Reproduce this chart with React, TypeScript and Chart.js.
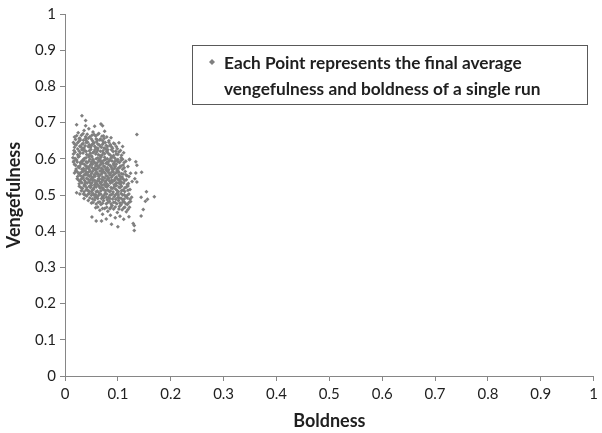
import React, { useEffect, useRef } from "react";
import { Chart, registerables } from "chart.js";

Chart.register(...registerables);

// Final average boldness (x) of each simulation run
const boldness: number[] = [
  // stragglers around the cluster
  0.032, 0.022, 0.039, 0.039, 0.056, 0.068, 0.071, 0.136, 0.102, 0.109, 0.122, 0.134, 0.136,
  0.134, 0.145, 0.132, 0.136, 0.154, 0.169, 0.144, 0.156, 0.152, 0.148, 0.144, 0.129, 0.131,
  0.131, 0.100, 0.088, 0.069, 0.059, 0.051, 0.121, 0.016, 0.022, 0.028, 0.036,
  // 0.65 - 0.68
  0.025, 0.031, 0.036, 0.042, 0.047, 0.053, 0.058, 0.064, 0.070, 0.075, 0.028, 0.040, 0.050,
  0.061, 0.079, 0.087, 0.018, 0.045,
  0.022, 0.034, 0.039, 0.051, 0.062, 0.073,
  0.020, 0.027, 0.035, 0.044, 0.052, 0.059, 0.066, 0.074, 0.083,
  // 0.61 - 0.65
  0.016, 0.021, 0.026, 0.030, 0.034, 0.038, 0.043, 0.048, 0.052, 0.056, 0.060, 0.065, 0.069,
  0.073, 0.078, 0.083, 0.088, 0.094, 0.099, 0.024, 0.035, 0.046, 0.057, 0.067, 0.081, 0.091,
  0.105, 0.019, 0.029, 0.041, 0.053, 0.063, 0.075, 0.086, 0.097, 0.111,
  0.018, 0.024, 0.032, 0.040, 0.046, 0.054, 0.062, 0.071, 0.076, 0.086, 0.092,
  0.018, 0.028, 0.036, 0.045, 0.050, 0.058, 0.067, 0.074, 0.080, 0.090, 0.097,
  0.017, 0.027, 0.032, 0.038, 0.049, 0.055, 0.062, 0.072, 0.079, 0.088, 0.096, 0.102,
  0.016, 0.024, 0.034, 0.045, 0.048, 0.058, 0.066, 0.072, 0.083, 0.092, 0.100, 0.107,
  // 0.57 - 0.61
  0.015, 0.022, 0.027, 0.032, 0.037, 0.042, 0.047, 0.051, 0.055, 0.059, 0.064, 0.068, 0.072,
  0.077, 0.082, 0.087, 0.092, 0.097, 0.103, 0.109, 0.115, 0.122,
  0.018, 0.025, 0.030, 0.035, 0.039, 0.044, 0.049, 0.054, 0.058, 0.062, 0.066, 0.071, 0.075,
  0.080, 0.085, 0.090, 0.095, 0.100, 0.106, 0.112, 0.119,
  0.019, 0.025, 0.035, 0.040, 0.045, 0.053, 0.062, 0.066, 0.075, 0.080, 0.085, 0.094, 0.100,
  0.106,
  0.017, 0.029, 0.035, 0.040, 0.050, 0.053, 0.061, 0.070, 0.074, 0.079, 0.089, 0.100, 0.106,
  0.112,
  0.020, 0.028, 0.037, 0.041, 0.047, 0.052, 0.060, 0.064, 0.069, 0.073, 0.082, 0.087, 0.092,
  0.097, 0.104, 0.110,
  0.021, 0.027, 0.032, 0.041, 0.046, 0.051, 0.056, 0.060, 0.064, 0.069, 0.077, 0.083, 0.088,
  0.093, 0.098, 0.103, 0.109,
  // 0.53 - 0.57
  0.020, 0.026, 0.031, 0.036, 0.041, 0.046, 0.050, 0.055, 0.060, 0.064, 0.069, 0.073, 0.078,
  0.083, 0.088, 0.093, 0.098, 0.104, 0.110, 0.117, 0.124,
  0.023, 0.029, 0.034, 0.039, 0.044, 0.049, 0.053, 0.058, 0.063, 0.067, 0.072, 0.076, 0.081,
  0.086, 0.091, 0.096, 0.101, 0.107, 0.113, 0.120, 0.127,
  0.018, 0.023, 0.028, 0.034, 0.039, 0.044, 0.052, 0.058, 0.062, 0.066, 0.071, 0.076, 0.081,
  0.086, 0.091, 0.096, 0.102, 0.107, 0.114,
  0.024, 0.029, 0.034, 0.039, 0.048, 0.051, 0.057, 0.066, 0.071, 0.080, 0.090, 0.097, 0.102,
  0.108, 0.115, 0.121,
  0.026, 0.031, 0.037, 0.041, 0.048, 0.051, 0.056, 0.061, 0.065, 0.070, 0.078, 0.083, 0.088,
  0.094, 0.099, 0.104, 0.110, 0.116,
  0.027, 0.032, 0.037, 0.042, 0.051, 0.061, 0.069, 0.079, 0.089, 0.098, 0.105, 0.111, 0.118,
  // 0.49 - 0.53
  0.027, 0.033, 0.038, 0.043, 0.048, 0.052, 0.057, 0.061, 0.066, 0.070, 0.074, 0.079, 0.084,
  0.089, 0.094, 0.099, 0.104, 0.110, 0.116, 0.123,
  0.035, 0.041, 0.046, 0.055, 0.060, 0.065, 0.071, 0.076, 0.082, 0.087, 0.093, 0.098, 0.103,
  0.109, 0.115, 0.121, 0.126,
  0.030, 0.036, 0.041, 0.046, 0.050, 0.055, 0.059, 0.064, 0.068, 0.072, 0.077, 0.082, 0.087,
  0.092, 0.097, 0.102, 0.107, 0.113, 0.119,
  0.031, 0.036, 0.040, 0.045, 0.054, 0.059, 0.068, 0.072, 0.081, 0.086, 0.096, 0.101, 0.107,
  0.113, 0.119,
  0.038, 0.044, 0.050, 0.053, 0.058, 0.063, 0.068, 0.074, 0.079, 0.085, 0.090, 0.095, 0.106,
  0.112, 0.118,
  0.047, 0.052, 0.057, 0.062, 0.073, 0.078, 0.085, 0.090, 0.100, 0.106, 0.112, 0.118, 0.123,
  // 0.43 - 0.49
  0.044, 0.050, 0.056, 0.063, 0.068, 0.073, 0.078, 0.084, 0.089, 0.095, 0.101, 0.106, 0.112,
  0.118, 0.124,
  0.053, 0.059, 0.066, 0.071, 0.081, 0.087, 0.092, 0.098, 0.104, 0.109, 0.115, 0.121,
  0.058, 0.066, 0.075, 0.081, 0.092, 0.099, 0.108, 0.116, 0.122,
  0.062, 0.071, 0.079, 0.085, 0.095, 0.102, 0.111, 0.119,
  0.071, 0.086, 0.095, 0.104, 0.111, 0.078,
  // dense core
  0.029, 0.039, 0.055, 0.067, 0.033, 0.044, 0.055, 0.062, 0.071, 0.077, 0.085, 0.040, 0.050,
  0.060, 0.070, 0.080, 0.090, 0.045, 0.057, 0.067, 0.078, 0.084, 0.094, 0.033, 0.023, 0.038,
  0.047, 0.057, 0.068, 0.079, 0.089, 0.100, 0.033, 0.043, 0.053, 0.061, 0.075, 0.085, 0.095,
  0.105, 0.046, 0.056, 0.065, 0.074, 0.084, 0.093, 0.102, 0.050, 0.064, 0.077, 0.091, 0.101,
  0.069, 0.080, 0.096, 0.109, 0.087, 0.103, 0.113,
];

// Final average vengefulness (y) of each simulation run, same order as boldness
const vengefulness: number[] = [
  // stragglers around the cluster
  0.719, 0.694, 0.706, 0.691, 0.690, 0.696, 0.691, 0.667, 0.644, 0.634, 0.598, 0.592, 0.582,
  0.561, 0.563, 0.545, 0.536, 0.509, 0.495, 0.494, 0.488, 0.483, 0.460, 0.442, 0.421, 0.416,
  0.402, 0.412, 0.419, 0.428, 0.428, 0.439, 0.440, 0.591, 0.506, 0.503, 0.490,
  // 0.65 - 0.68
  0.672, 0.665, 0.678, 0.668, 0.661, 0.674, 0.663, 0.670, 0.662, 0.676, 0.657, 0.651, 0.655,
  0.652, 0.660, 0.658, 0.660, 0.683,
  0.664, 0.669, 0.661, 0.665, 0.667, 0.663,
  0.653, 0.656, 0.651, 0.657, 0.650, 0.655, 0.652, 0.656, 0.650,
  // 0.61 - 0.65
  0.645, 0.638, 0.648, 0.633, 0.642, 0.636, 0.646, 0.631, 0.641, 0.635, 0.647, 0.638, 0.632,
  0.644, 0.637, 0.646, 0.633, 0.641, 0.628, 0.627, 0.624, 0.622, 0.626, 0.621, 0.625, 0.620,
  0.623, 0.618, 0.615, 0.612, 0.617, 0.611, 0.614, 0.610, 0.613, 0.617,
  0.641, 0.644, 0.640, 0.645, 0.639, 0.643, 0.641, 0.640, 0.645, 0.639, 0.643,
  0.632, 0.635, 0.630, 0.634, 0.636, 0.631, 0.634, 0.630, 0.633, 0.629, 0.634,
  0.623, 0.621, 0.625, 0.622, 0.626, 0.620, 0.624, 0.622, 0.620, 0.625, 0.621, 0.619,
  0.613, 0.611, 0.616, 0.610, 0.615, 0.613, 0.609, 0.616, 0.613, 0.609, 0.612, 0.610,
  // 0.57 - 0.61
  0.603, 0.597, 0.607, 0.594, 0.601, 0.589, 0.599, 0.605, 0.591, 0.600, 0.595, 0.604, 0.588,
  0.598, 0.592, 0.602, 0.586, 0.597, 0.590, 0.599, 0.593, 0.598,
  0.584, 0.578, 0.586, 0.573, 0.581, 0.576, 0.585, 0.572, 0.580, 0.574, 0.583, 0.571, 0.579,
  0.575, 0.582, 0.570, 0.578, 0.573, 0.580, 0.575, 0.579,
  0.601, 0.605, 0.599, 0.603, 0.606, 0.598, 0.602, 0.599, 0.604, 0.600, 0.597, 0.602, 0.598,
  0.603,
  0.594, 0.590, 0.596, 0.592, 0.591, 0.596, 0.589, 0.593, 0.596, 0.590, 0.594, 0.592, 0.595,
  0.590,
  0.582, 0.580, 0.584, 0.579, 0.581, 0.585, 0.582, 0.578, 0.586, 0.580, 0.584, 0.579, 0.583,
  0.585, 0.578, 0.583,
  0.572, 0.575, 0.571, 0.574, 0.571, 0.576, 0.573, 0.571, 0.576, 0.574, 0.572, 0.570, 0.575,
  0.573, 0.569, 0.575, 0.571,
  // 0.53 - 0.57
  0.566, 0.559, 0.563, 0.555, 0.562, 0.552, 0.560, 0.556, 0.563, 0.551, 0.558, 0.565, 0.553,
  0.561, 0.549, 0.557, 0.562, 0.551, 0.558, 0.553, 0.560,
  0.545, 0.538, 0.546, 0.535, 0.543, 0.531, 0.540, 0.534, 0.544, 0.532, 0.541, 0.536, 0.545,
  0.533, 0.540, 0.531, 0.542, 0.535, 0.540, 0.532, 0.537,
  0.561, 0.564, 0.560, 0.565, 0.560, 0.563, 0.565, 0.561, 0.559, 0.566, 0.562, 0.560, 0.565,
  0.559, 0.564, 0.561, 0.563, 0.559, 0.565,
  0.551, 0.554, 0.549, 0.556, 0.554, 0.549, 0.552, 0.555, 0.550, 0.552, 0.553, 0.550, 0.555,
  0.550, 0.556, 0.551,
  0.541, 0.544, 0.540, 0.546, 0.542, 0.545, 0.541, 0.539, 0.545, 0.543, 0.540, 0.546, 0.541,
  0.540, 0.545, 0.539, 0.544, 0.542,
  0.531, 0.534, 0.530, 0.533, 0.534, 0.530, 0.535, 0.531, 0.535, 0.534, 0.530, 0.533, 0.529,
  // 0.49 - 0.53
  0.524, 0.518, 0.526, 0.513, 0.521, 0.515, 0.525, 0.511, 0.519, 0.527, 0.514, 0.522, 0.510,
  0.518, 0.524, 0.512, 0.520, 0.514, 0.522, 0.515,
  0.503, 0.497, 0.505, 0.499, 0.494, 0.503, 0.496, 0.505, 0.493, 0.501, 0.495, 0.504, 0.492,
  0.500, 0.496, 0.503, 0.494,
  0.521, 0.525, 0.520, 0.524, 0.526, 0.520, 0.522, 0.525, 0.521, 0.519, 0.524, 0.526, 0.521,
  0.520, 0.526, 0.522, 0.524, 0.519, 0.525,
  0.512, 0.509, 0.514, 0.511, 0.515, 0.509, 0.512, 0.516, 0.514, 0.511, 0.516, 0.509, 0.512,
  0.510, 0.513,
  0.500, 0.503, 0.499, 0.504, 0.501, 0.498, 0.502, 0.499, 0.503, 0.499, 0.503, 0.500, 0.504,
  0.501, 0.499,
  0.492, 0.489, 0.493, 0.490, 0.491, 0.494, 0.490, 0.489, 0.493, 0.491, 0.489, 0.492, 0.488,
  // 0.43 - 0.49
  0.485, 0.478, 0.486, 0.480, 0.474, 0.484, 0.476, 0.483, 0.471, 0.479, 0.485, 0.473, 0.481,
  0.474, 0.482,
  0.479, 0.475, 0.481, 0.477, 0.479, 0.476, 0.480, 0.476, 0.478, 0.480, 0.476, 0.479,
  0.465, 0.458, 0.463, 0.455, 0.461, 0.452, 0.459, 0.454, 0.466,
  0.467, 0.463, 0.466, 0.462, 0.467, 0.461, 0.464, 0.460,
  0.447, 0.444, 0.437, 0.441, 0.433, 0.434,
  // dense core
  0.652, 0.657, 0.667, 0.655, 0.628, 0.634, 0.644, 0.629, 0.650, 0.627, 0.637, 0.620, 0.608,
  0.619, 0.610, 0.618, 0.606, 0.593, 0.588, 0.592, 0.587, 0.595, 0.592, 0.588, 0.591, 0.568,
  0.566, 0.569, 0.566, 0.568, 0.564, 0.566, 0.550, 0.555, 0.548, 0.557, 0.547, 0.555, 0.546,
  0.544, 0.536, 0.528, 0.537, 0.529, 0.539, 0.528, 0.533, 0.510, 0.507, 0.512, 0.508, 0.500,
  0.490, 0.487, 0.488, 0.487, 0.466, 0.468, 0.466,
];

const xTickLabels = ["0", "0.1", "0.2", "0.3", "0.4", "0.5", "0.6", "0.7", "0.8", "0.9", "1"];
const yTickLabels = ["0", "0.1", "0.2", "0.3", "0.4", "0.5", "0.6", "0.7", "0.8", "0.9", "1"];

const noteLines = [
  "Each Point represents the final average",
  "vengefulness and boldness of a single run",
];

const FONT = "Lato, 'Open Sans', sans-serif";
const TEXT_COLOR = "#1f1f1f";
const AXIS_COLOR = "#868686";
const POINT_COLOR = "#7f7f7f";

// Boxed note in the upper right of the plot, with the series marker in front
const notePlugin = {
  id: "noteBox",
  afterDraw(chart: any) {
    const ctx = chart.ctx as CanvasRenderingContext2D;
    ctx.save();
    ctx.fillStyle = "#ffffff";
    ctx.fillRect(192, 45, 396, 60);
    ctx.strokeStyle = "#595959";
    ctx.lineWidth = 1;
    ctx.strokeRect(192.5, 45.5, 395, 59);

    // marker
    ctx.fillStyle = POINT_COLOR;
    ctx.beginPath();
    ctx.moveTo(212, 59);
    ctx.lineTo(215, 62);
    ctx.lineTo(212, 65);
    ctx.lineTo(209, 62);
    ctx.closePath();
    ctx.fill();

    // size the note text so its first line spans the box's text column
    ctx.font = `bold 16px ${FONT}`;
    const w = ctx.measureText(noteLines[0]).width;
    const size = (16 * 298) / w;
    ctx.font = `bold ${size.toFixed(2)}px ${FONT}`;
    ctx.fillStyle = TEXT_COLOR;
    ctx.textAlign = "left";
    ctx.textBaseline = "alphabetic";
    ctx.fillText(noteLines[0], 224, 69);
    ctx.fillText(noteLines[1], 224, 95);
    ctx.restore();
  },
};

export default function App() {
  const canvasRef = useRef<HTMLCanvasElement | null>(null);

  useEffect(() => {
    const canvas = canvasRef.current;
    if (!canvas) return;
    const points = boldness.map((b, i) => ({ x: b, y: vengefulness[i] }));

    const chart = new Chart(canvas, {
      type: "scatter",
      data: {
        datasets: [
          {
            label: noteLines.join(" "),
            data: points,
            pointStyle: "rectRot",
            pointRadius: 2,
            pointBorderWidth: 0,
            backgroundColor: POINT_COLOR,
            borderColor: POINT_COLOR,
          },
        ],
      },
      options: {
        responsive: false,
        animation: false,
        layout: { padding: { top: 14, right: 4, left: 0, bottom: 0 } },
        plugins: {
          legend: { display: false },
          tooltip: { enabled: false },
        },
        scales: {
          x: {
            type: "linear",
            min: 0,
            max: 1,
            ticks: {
              stepSize: 0.1,
              padding: 4,
              color: TEXT_COLOR,
              font: { family: FONT, size: 15 },
              maxRotation: 0,
              callback: (_v: any, i: number) => xTickLabels[i],
            },
            grid: {
              drawOnChartArea: false,
              drawTicks: true,
              tickLength: 5,
              color: AXIS_COLOR,
            },
            border: { color: AXIS_COLOR, width: 1 },
            title: {
              display: true,
              text: "Boldness",
              color: TEXT_COLOR,
              font: { family: FONT, size: 18, weight: "bold" },
              padding: { top: 0, bottom: 1 },
            },
            afterFit: (scale: any) => {
              scale.height = 57;
            },
          },
          y: {
            type: "linear",
            min: 0,
            max: 1,
            ticks: {
              stepSize: 0.1,
              padding: 4,
              color: TEXT_COLOR,
              font: { family: FONT, size: 15 },
              callback: (_v: any, i: number) => yTickLabels[i],
            },
            grid: {
              drawOnChartArea: false,
              drawTicks: true,
              tickLength: 5,
              color: AXIS_COLOR,
            },
            border: { color: AXIS_COLOR, width: 1 },
            title: {
              display: true,
              text: "Vengefulness",
              color: TEXT_COLOR,
              font: { family: FONT, size: 18, weight: "bold" },
              padding: { top: 3, bottom: 0 },
            },
            afterFit: (scale: any) => {
              scale.width = 65;
            },
          },
        },
      },
      plugins: [notePlugin],
    });

    return () => chart.destroy();
  }, []);

  return (
    <div style={{ position: "fixed", left: 0, top: 0, width: 602, height: 433, background: "#fff" }}>
      <canvas ref={canvasRef} width={602} height={433} style={{ display: "block" }} />
    </div>
  );
}
